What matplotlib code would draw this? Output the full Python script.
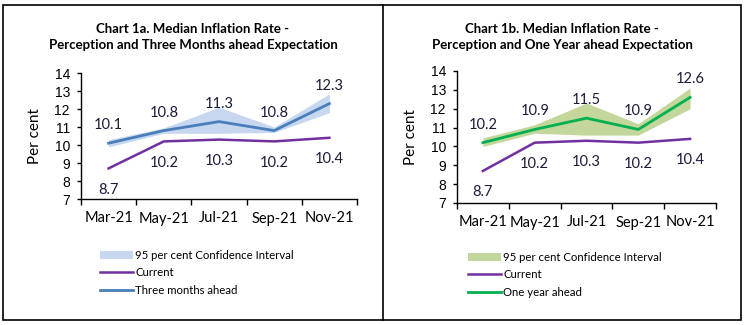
import numpy as np
import matplotlib.pyplot as plt
from matplotlib.patches import Rectangle
from matplotlib.lines import Line2D

months = ['Mar-21', 'May-21', 'Jul-21', 'Sep-21', 'Nov-21']
current = [8.7, 10.2, 10.3, 10.2, 10.4]

three_month = [10.1, 10.8, 11.3, 10.8, 12.3]
three_lo = [9.9, 10.65, 10.65, 10.7, 11.8]
three_hi = [10.3, 10.95, 12.1, 11.0, 12.85]

one_year = [10.2, 10.9, 11.5, 10.9, 12.6]
one_lo = [10.0, 10.7, 10.6, 10.6, 12.0]
one_hi = [10.45, 11.15, 12.3, 11.2, 13.1]

PURPLE = '#7030A0'
BLUE = '#4A7EBB'
BLUE_BAND = '#C6D7EF'
GREEN = '#00B050'
GREEN_BAND = '#C3D69B'
LABEL_COLOR = '#1C1C3A'
FONT = ['Lato', 'DejaVu Sans']

plt.rcParams['font.family'] = FONT

fig = plt.figure(figsize=(7.45, 3.25), dpi=100)
fig.patch.set_facecolor('white')

# outer frame and divider
fig.patches.append(Rectangle((3/745, 5/325), 738/745, 315/325, transform=fig.transFigure,
                             fill=False, edgecolor='black', linewidth=1.2))
fig.lines.append(Line2D([383/745, 383/745], [5/325, 320/325], transform=fig.transFigure,
                        color='black', linewidth=1.2))


def draw_chart(ax, title, title_x, expect, lo, hi, line_color, band_color, exp_name, legend_xy):
    x = np.arange(len(months))
    ax.fill_between(x, lo, hi, color=band_color, linewidth=0, label='95 per cent Confidence Interval')
    ax.plot(x, current, color=PURPLE, linewidth=1.8, label='Current')
    ax.plot(x, expect, color=line_color, linewidth=2.0, label=exp_name)

    for xi, v in zip(x, expect):
        ax.annotate('{:.1f}'.format(v), (xi, v), xytext=(0, 13), textcoords='offset points',
                    ha='center', va='center', fontsize=10.5, color=LABEL_COLOR)
    for xi, v in zip(x, current):
        ax.annotate('{:.1f}'.format(v), (xi, v), xytext=(0, -15.5), textcoords='offset points',
                    ha='center', va='center', fontsize=10.5, color=LABEL_COLOR)

    ax.set_xlim(-0.5, len(months) - 0.5)
    ax.set_ylim(7, 14)
    ax.set_yticks(range(7, 15))
    ax.set_yticklabels([str(v) for v in range(7, 15)], family=['Liberation Sans'], fontsize=10)
    ax.set_xticks(np.arange(-0.5, len(months)), labels=[''] * (len(months) + 1))
    ax.set_xticks(x, labels=months, minor=True)
    ax.tick_params(axis='x', which='major', length=4, width=1, color='black')
    ax.tick_params(axis='x', which='minor', length=0, labelsize=10.5, pad=9)
    ax.tick_params(axis='y', length=3, width=1, pad=5)
    for s in ['top', 'right']:
        ax.spines[s].set_visible(False)
    for s in ['left', 'bottom']:
        ax.spines[s].set_color('black')
        ax.spines[s].set_linewidth(1)
    ax.set_ylabel('Per cent', fontsize=11, labelpad=9)
    fig.text(title_x, 1 - 37/325, title, ha='center', va='center', fontsize=9.5,
             fontweight='bold', linespacing=1.35)

    ax.legend(loc='upper left', bbox_to_anchor=legend_xy, bbox_transform=fig.transFigure,
              frameon=False, fontsize=8.2, handlelength=2.9, handletextpad=0.2,
              labelspacing=0.55, borderpad=0, borderaxespad=0)


ax1 = fig.add_axes([81/745, 126/325, 276/745, 126/325])
draw_chart(ax1, 'Chart 1a. Median Inflation Rate -\nPerception and Three Months ahead Expectation',
           193/745, three_month, three_lo, three_hi, BLUE, BLUE_BAND, 'Three months ahead',
           (100/745, 1 - 250/325))

ax2 = fig.add_axes([457/745, 122/325, 259/745, 132/325])
draw_chart(ax2, 'Chart 1b. Median Inflation Rate -\nPerception and One Year ahead Expectation',
           562/745, one_year, one_lo, one_hi, GREEN, GREEN_BAND, 'One year ahead',
           (468/745, 1 - 252/325))

fig.savefig('out.png', dpi=100)
